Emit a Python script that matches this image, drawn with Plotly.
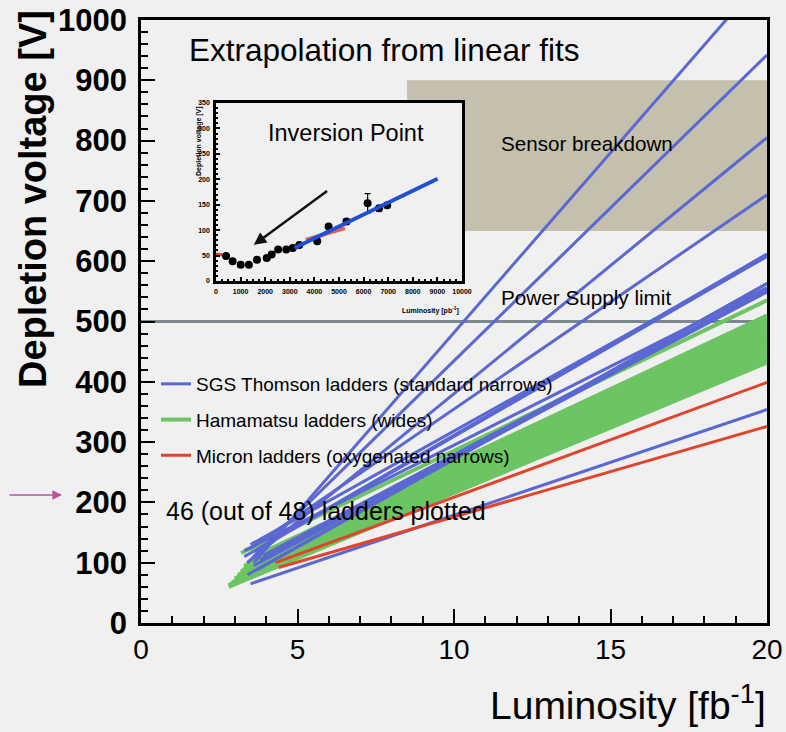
import plotly.graph_objects as go

# ---------------- data ----------------
END_LUMI = 20.0  # fb^-1, extrapolation end point

# SGS Thomson ladders (standard narrows): start luminosity, start voltage, voltage at END_LUMI
sgs_start_lumi = [3.6, 3.4, 3.4, 3.5, 3.5, 3.3, 3.6, 3.4, 3.8, 3.6, 3.3, 3.7, 3.5, 3.9]
sgs_start_v    = [100, 100, 100, 124, 130, 110, 118, 80, 105, 95, 120, 88, 65, 112]
sgs_end_v      = [1078, 942, 805, 710, 608, 612, 608, 563, 549, 551, 556, 563, 354, 553]

# Hamamatsu ladders (wides)
ham_start_lumi = [2.8, 2.8, 2.9, 2.9, 3.0, 3.0, 3.0, 3.1, 3.1, 3.1, 3.2, 3.2, 3.2, 3.3, 3.3,
                  3.3, 3.4, 3.4, 3.4, 3.5, 3.5, 3.5, 3.6, 3.6, 2.9, 3.0, 3.1, 3.2, 3.3, 3.2]
ham_start_v    = [60, 63, 65, 67, 70, 72, 74, 76, 78, 80, 82, 84, 86, 88, 90,
                  92, 94, 96, 98, 100, 102, 104, 106, 110, 64, 69, 75, 85, 95, 116]
ham_end_v      = [432, 438, 442, 446, 450, 454, 457, 460, 464, 467, 470, 473, 476, 479, 482,
                  485, 488, 491, 494, 497, 500, 503, 506, 510, 440, 452, 462, 474, 486, 535]

# Micron ladders (oxygenated narrows)
mic_start_lumi = [4.3, 4.4]
mic_start_v    = [100, 92]
mic_end_v      = [399, 326]

# limits
breakdown_lumi = [8.5, 20.0]
breakdown_v = [650, 900]
power_supply_limit = 500

# inset: inversion point measurements for one ladder
inset_lumi = [410, 675, 1005, 1336, 1667, 2063, 2262, 2526, 2857, 3122, 3386, 4114, 4577, 5304, 6164, 6627, 6958]
inset_v    = [49, 39, 32, 32, 42, 45, 52, 62, 62, 65, 71, 78, 107, 117, 153, 143, 149]
inset_err  = [3, 3, 3, 3, 3, 3, 3, 3, 3, 3, 3, 4, 4, 5, 19, 5, 5]
inset_fit_lumi = [3188, 9008]
inset_fit_v    = [65, 201]
inset_red_lumi = [3650, 4400, 5240]
inset_red_v    = [81, 92, 104]
inset_red0_lumi = [0, 420]
inset_red0_v    = [53, 50]
inset_arrow_from = (4577, 179)
inset_arrow_to = (1534, 71)

# ---------------- style ----------------
BLUE = "#5b68d2"
GREEN = "#6cc562"
RED = "#e2432c"
BG = "#f0f0f0"
FONT = "Liberation Sans, Arial, sans-serif"
TXT = "#000000"

W, H = 786, 732
ML, MR, MT, MB = 141, 19, 20, 109
PW, PH = W - ML - MR, H - MT - MB


def px_x(px):
    return (px - ML) / PW


def px_y(py):
    return (H - MB - py) / PH


fig = go.Figure()

groups = [
    ("SGS Thomson ladders (standard narrows)", BLUE, 3, sgs_start_lumi, sgs_start_v, sgs_end_v, 1),
    ("Hamamatsu ladders (wides)", GREEN, 4, ham_start_lumi, ham_start_v, ham_end_v, 2),
    ("Micron ladders (oxygenated narrows)", RED, 3, mic_start_lumi, mic_start_v, mic_end_v, 3),
]
draw_order = [1, 0, 2]
for gi in draw_order:
    name, color, lw, sl, sv, ev, rank = groups[gi]
    for i, (x0, v0, v1) in enumerate(zip(sl, sv, ev)):
        fig.add_trace(go.Scatter(
            x=[x0, END_LUMI], y=[v0, v1], mode="lines",
            line=dict(color=color, width=lw),
            name=name, legendgroup=name, legendrank=rank,
            showlegend=(i == 0), hoverinfo="skip",
            xaxis="x", yaxis="y",
        ))

# inset traces
fig.add_trace(go.Scatter(x=inset_red0_lumi, y=inset_red0_v, mode="lines",
                         line=dict(color=RED, width=3), showlegend=False,
                         xaxis="x2", yaxis="y2", hoverinfo="skip"))
fig.add_trace(go.Scatter(x=inset_red_lumi, y=inset_red_v, mode="lines",
                         line=dict(color="#e0605a", width=4), showlegend=False,
                         xaxis="x2", yaxis="y2", hoverinfo="skip"))
fig.add_trace(go.Scatter(x=inset_lumi, y=inset_v, mode="markers",
                         marker=dict(color="black", size=8),
                         error_y=dict(type="data", array=inset_err, color="black", thickness=1.2, width=3),
                         showlegend=False, xaxis="x2", yaxis="y2", hoverinfo="skip"))
fig.add_trace(go.Scatter(x=inset_fit_lumi, y=inset_fit_v, mode="lines",
                         line=dict(color="#1f4fd6", width=4), showlegend=False,
                         xaxis="x2", yaxis="y2", hoverinfo="skip"))

# shapes: sensor breakdown band & power supply limit
fig.add_shape(type="rect", xref="x", yref="y",
              x0=breakdown_lumi[0], x1=breakdown_lumi[1], y0=breakdown_v[0], y1=breakdown_v[1],
              fillcolor="#c5c0ae", line=dict(width=0), layer="below")
fig.add_shape(type="line", xref="x", yref="y", x0=0, x1=END_LUMI,
              y0=power_supply_limit, y1=power_supply_limit,
              line=dict(color="#7b898e", width=3), layer="below")

ann = []
ann.append(dict(text="Extrapolation from linear fits", xref="paper", yref="paper",
                x=px_x(187), y=px_y(50), xanchor="left", yanchor="middle", showarrow=False,
                font=dict(size=31.5, color=TXT, family=FONT)))
ann.append(dict(text="Sensor breakdown", xref="x", yref="y", x=11.44, y=796,
                xanchor="left", yanchor="middle", showarrow=False,
                font=dict(size=20.6, color=TXT, family=FONT)))
ann.append(dict(text="Power Supply limit", xref="x", yref="y", x=11.44, y=539,
                xanchor="left", yanchor="middle", showarrow=False,
                font=dict(size=20.7, color=TXT, family=FONT)))
ann.append(dict(text="46 (out of 48) ladders plotted", xref="paper", yref="paper",
                x=px_x(164), y=px_y(511), xanchor="left", yanchor="middle", showarrow=False,
                font=dict(size=25, color=TXT, family=FONT)))
# axis titles
ann.append(dict(text="<b>Depletion voltage [V]</b>", xref="paper", yref="paper",
                x=px_x(33), y=px_y(8), xanchor="center", yanchor="top", textangle=-90,
                showarrow=False, font=dict(size=38, color=TXT, family=FONT)))
ann.append(dict(text="Luminosity [fb<sup>-1</sup>]", xref="paper", yref="paper",
                x=px_x(768), y=px_y(702), xanchor="right", yanchor="middle",
                showarrow=False, font=dict(size=39, color=TXT, family=FONT)))
# pink arrow
ann.append(dict(text="", xref="paper", yref="paper", x=px_x(62), y=px_y(495),
                ax=-54, ay=0, showarrow=True, arrowhead=2, arrowsize=1.2,
                arrowwidth=1.6, arrowcolor="#c0509c"))
# inset annotations
ann.append(dict(text="Inversion Point", xref="x2", yref="y2", x=5304, y=292,
                xanchor="center", yanchor="middle", showarrow=False,
                font=dict(size=23.5, color=TXT, family=FONT)))
ann.append(dict(text="", xref="x2", yref="y2", axref="x2", ayref="y2",
                x=inset_arrow_to[0], y=inset_arrow_to[1],
                ax=inset_arrow_from[0], ay=inset_arrow_from[1],
                showarrow=True, arrowhead=2, arrowsize=1, arrowwidth=2.5, arrowcolor="#111"))
ann.append(dict(text="<b>Depletion voltage [V]</b>", xref="paper", yref="paper",
                x=px_x(199), y=px_y(104), xanchor="center", yanchor="top", textangle=-90,
                showarrow=False, font=dict(size=7, color=TXT, family=FONT)))
ann.append(dict(text="<b>Luminosity [pb<sup>-1</sup>]</b>", xref="paper", yref="paper",
                x=px_x(461), y=px_y(310), xanchor="right", yanchor="middle",
                showarrow=False, font=dict(size=7, color=TXT, family=FONT)))

inset_x0, inset_x1, inset_y0, inset_y1 = 216, 462, 103, 281

fig.update_layout(
    width=W, height=H,
    margin=dict(l=ML, r=MR, t=MT, b=MB, autoexpand=False),
    paper_bgcolor=BG, plot_bgcolor=BG,
    font=dict(family=FONT, color=TXT),
    annotations=ann,
    showlegend=True,
    legend=dict(x=px_x(156), y=px_y(365), xanchor="left", yanchor="top",
                bgcolor="rgba(0,0,0,0)", font=dict(size=19, family=FONT, color=TXT),
                traceorder="grouped", tracegroupgap=8, itemwidth=30),
    xaxis=dict(range=[0, 20], domain=[0, 1], showgrid=False, zeroline=False, automargin=False,
               showline=True, mirror=True, linecolor="black", linewidth=2.5,
               ticks="inside", ticklen=14, tickwidth=2, tickcolor="black",
               tickvals=[0, 5, 10, 15, 20], ticklabelstandoff=0,
               tickfont=dict(size=28, family=FONT, color=TXT),
               minor=dict(ticks="inside", ticklen=7, tickwidth=2, dtick=1, tickcolor="black")),
    yaxis=dict(range=[0, 1000], domain=[0, 1], showgrid=False, zeroline=False, automargin=False,
               showline=True, mirror=True, linecolor="black", linewidth=2.5,
               ticks="inside", ticklen=14, tickwidth=2, tickcolor="black",
               dtick=100, ticklabelstandoff=5,
               tickfont=dict(size=31, family=FONT, color=TXT, weight="bold"),
               minor=dict(ticks="inside", ticklen=7, tickwidth=1.5, dtick=20, tickcolor="black")),
    xaxis2=dict(domain=[px_x(inset_x0), px_x(inset_x1)], anchor="y2", range=[0, 10000],
                showgrid=False, zeroline=False, showline=True, mirror=True, automargin=False,
                linecolor="black", linewidth=2.5, ticks="inside", ticklen=4, tickwidth=1.5,
                tickcolor="black", dtick=1000, tickformat="d", ticklabelstandoff=2,
                tickfont=dict(size=7, family=FONT, color=TXT, weight="bold"),
                minor=dict(ticks="inside", ticklen=2, dtick=250, tickcolor="black")),
    yaxis2=dict(domain=[px_y(inset_y1), px_y(inset_y0)], anchor="x2", range=[0, 350],
                showgrid=False, zeroline=False, showline=True, mirror=True, automargin=False,
                linecolor="black", linewidth=2.5, ticks="inside", ticklen=4, tickwidth=1.5,
                tickcolor="black", dtick=50, tickformat="d", ticklabelstandoff=2,
                tickfont=dict(size=7, family=FONT, color=TXT, weight="bold"),
                minor=dict(ticks="inside", ticklen=2, dtick=10, tickcolor="black")),
)

fig.write_html("out.html")
